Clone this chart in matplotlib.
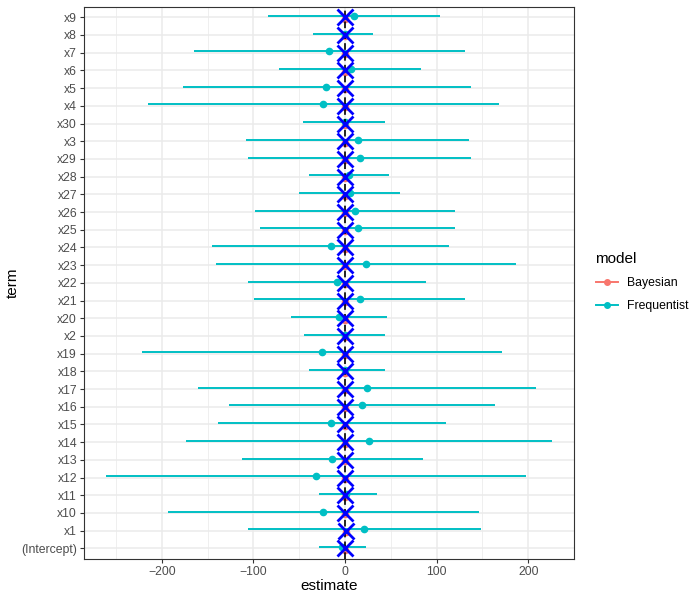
import numpy as np
import matplotlib
matplotlib.use("Agg")
from matplotlib import pyplot as plt
from matplotlib.lines import Line2D
from matplotlib.ticker import MultipleLocator

plt.rcParams['font.family'] = ['Liberation Sans', 'DejaVu Sans']

# terms in plotting order (bottom to top)
terms = ['(Intercept)', 'x1', 'x10', 'x11', 'x12', 'x13', 'x14', 'x15', 'x16', 'x17',
         'x18', 'x19', 'x2', 'x20', 'x21', 'x22', 'x23', 'x24', 'x25', 'x26',
         'x27', 'x28', 'x29', 'x3', 'x30', 'x4', 'x5', 'x6', 'x7', 'x8', 'x9']

freq_est = [-3, 20.7, -24, 1, -31.6, -14.2, 26.2, -14.9, 18.2, 24.4,
            0, -25.4, 0, -6.5, 16, -9, 23, -15.6, 13.8, 11.3,
            5.5, 4, 16.4, 14.2, 0, -24, -20.7, 6, -17, 0, 9.8]
freq_lo = [-28.4, -105.8, -193.4, -28.4, -260.6, -113, -173.4, -139.2, -126.9, -161,
           -39.6, -222, -44.3, -58.9, -99.2, -105.8, -141.4, -145.4, -92.3, -97.8,
           -49.8, -39.6, -105.4, -108, -45.4, -215, -177, -71.6, -165, -34.5, -84]
freq_hi = [22.5, 148, 145.8, 34.5, 198, 85, 225.7, 110, 163.6, 209,
           43.3, 171, 43.3, 45.8, 130.9, 88.3, 187, 114, 119.6, 120,
           59.6, 47.6, 137.8, 135.6, 43.3, 167.6, 137, 82.5, 130.5, 30, 103.6]

bayes_est = [0, 1.5, 0, 0, 0, 0, 0, 0, 0, 0,
             0, 0, 0, 0, 0, 0, 0, 0, 0, 0,
             0, 0, 0, 0, 0, 0, 0, 0, 0, 0, 0]
bayes_lo = [-1] * 31
bayes_hi = [1] * 31

true_vals = [0, 1.5, 0, 0, 0, 0, 0, 0, 0, 0,
             0, 0, 0, 0, 0, 0, 0, 0, 0, 0,
             0, 0, 0, 0, 0, 0, 0, 0, 0, 0, 0]

red = '#F8766D'
cyan = '#00BFC4'

fig = plt.figure(figsize=(7, 6), dpi=100)
ax = fig.add_axes([0.12, 0.0683, 0.70, 0.9206])

y = np.arange(1, len(terms) + 1)
dodge = 0.075

# grid
ax.set_axisbelow(True)
ax.xaxis.set_major_locator(MultipleLocator(100))
ax.xaxis.set_minor_locator(MultipleLocator(50))
ax.grid(which='major', color='#EBEBEB', linewidth=1.1)
ax.grid(which='minor', axis='x', color='#EBEBEB', linewidth=0.55)

b_lo = np.array(bayes_est) + np.array(bayes_lo)
b_hi = np.array(bayes_est) + np.array(bayes_hi)
ax.hlines(y - dodge, b_lo, b_hi, color=red, linewidth=1.4, zorder=2)
ax.plot(bayes_est, y - dodge, 'o', color=red, markersize=4.5, zorder=2)

ax.hlines(y + dodge, freq_lo, freq_hi, color=cyan, linewidth=1.4, zorder=2)
ax.plot(freq_est, y + dodge, 'o', color=cyan, markersize=4.5, zorder=2)

ax.axvline(0, color='black', linestyle=(0, (4, 2.5)), linewidth=1.2, zorder=3)
ax.plot(true_vals, y, 'x', color='blue', markersize=11, markeredgewidth=2.0, zorder=4)

ax.set_xlim(-285, 250)
ax.set_ylim(0.4, 31.6)
ax.set_yticks(y)
ax.set_yticklabels(terms)

for s in ax.spines.values():
    s.set_color('#333333')
    s.set_linewidth(0.8)
ax.tick_params(which='major', length=3, width=0.8, color='#333333',
               labelsize=8.8, labelcolor='#4D4D4D', pad=2)
ax.tick_params(which='minor', length=0)

ax.set_xlabel('estimate', fontsize=11, labelpad=1)
ax.set_ylabel('term', fontsize=11, labelpad=1)

handles = [Line2D([0], [0], color=red, marker='o', markersize=4, linewidth=1.4),
           Line2D([0], [0], color=cyan, marker='o', markersize=4, linewidth=1.4)]
leg = fig.legend(handles, ['Bayesian', 'Frequentist'], title='model',
                 loc='upper left', bbox_to_anchor=(0.835, 0.598), frameon=False,
                 fontsize=8.8, title_fontsize=11, handlelength=1.8,
                 labelspacing=0.9, alignment='left')

fig.savefig('out.png', dpi=100)
